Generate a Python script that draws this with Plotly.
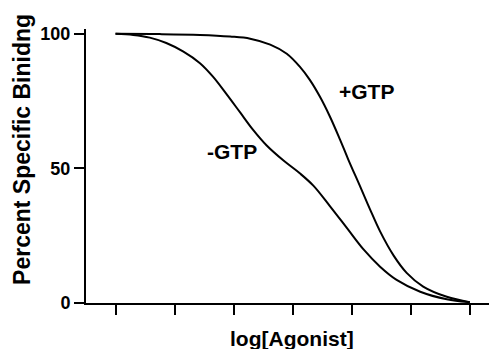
import plotly.graph_objects as go

# log[Agonist] positions (tick units) and percent specific binding
x_plus = [0, 0.75, 1.43, 1.94, 2.28, 2.62, 2.90, 3.12, 3.29, 3.46, 3.63, 3.80, 3.94,
          4.14, 4.31, 4.48, 4.71, 4.93, 5.21, 5.61, 6]
y_plus = [100, 99.9, 99.6, 99.0, 98.2, 96.0, 92.6, 87.8, 82.9, 76.7, 69.3, 60.8, 53.4,
          43.4, 34.8, 26.6, 17.6, 11.2, 6.1, 2.3, 0.3]

x_minus = [0, 0.3, 0.58, 0.86, 1.15, 1.43, 1.65, 1.88, 2.11, 2.33, 2.56, 2.84, 3.12,
           3.35, 3.63, 3.92, 4.20, 4.48, 4.76, 5.16, 5.61, 6]
y_minus = [100, 99.6, 98.6, 96.6, 93.4, 89.1, 84.1, 77.6, 70.8, 64.3, 58.5, 53.0, 48.2,
           43.6, 36.0, 27.8, 19.9, 13.5, 8.6, 4.2, 1.4, 0.3]

x_ticks = [0, 1, 2, 3, 4, 5, 6]
y_ticks = [0, 50, 100]
y_tick_labels = ["0", "50", "100"]

FONT = "Arial, Liberation Sans, Helvetica, sans-serif"

fig = go.Figure()
fig.add_trace(go.Scatter(x=x_plus, y=y_plus, mode="lines",
                         line=dict(color="black", width=2, shape="spline", smoothing=1),
                         name="+GTP", hoverinfo="skip"))
fig.add_trace(go.Scatter(x=x_minus, y=y_minus, mode="lines",
                         line=dict(color="black", width=2, shape="spline", smoothing=1),
                         name="-GTP", hoverinfo="skip"))

# page has an 8px body margin, so the figure is sized/offset to compensate
fig.update_layout(
    width=489, height=341,
    margin=dict(l=78, r=0, t=21, b=46),
    paper_bgcolor="white", plot_bgcolor="white",
    showlegend=False,
    font=dict(family=FONT, color="black"),
    xaxis=dict(range=[-0.5, 6.46], tickvals=x_ticks, showticklabels=False,
               ticks="outside", ticklen=10, tickwidth=2, tickcolor="black",
               showline=True, linecolor="black", linewidth=2,
               showgrid=False, zeroline=False, fixedrange=True),
    yaxis=dict(range=[0, 101.8], tickvals=y_ticks, ticktext=y_tick_labels,
               ticks="outside", ticklen=10, tickwidth=2, tickcolor="black",
               tickfont=dict(size=18, family=FONT, weight="bold"),
               showline=True, linecolor="black", linewidth=2,
               showgrid=False, zeroline=False, fixedrange=True),
    annotations=[
        dict(text="+GTP", x=4.25, y=78.5, xref="x", yref="y", showarrow=False,
             font=dict(size=21, family=FONT, weight="bold")),
        dict(text="-GTP", x=1.97, y=56.2, xref="x", yref="y", showarrow=False,
             font=dict(size=21, family=FONT, weight="bold")),
        dict(text="Percent Specific Binidng", x=-0.156, y=0.562, xref="paper", yref="paper",
             textangle=-90, showarrow=False, xanchor="center", yanchor="middle",
             font=dict(size=23, family=FONT, weight="bold")),
        dict(text="log[Agonist]", x=0.502, y=-0.128, xref="paper", yref="paper",
             showarrow=False, xanchor="center", yanchor="middle",
             font=dict(size=21, family=FONT, weight="bold")),
    ],
)

fig.write_html("out.html")
